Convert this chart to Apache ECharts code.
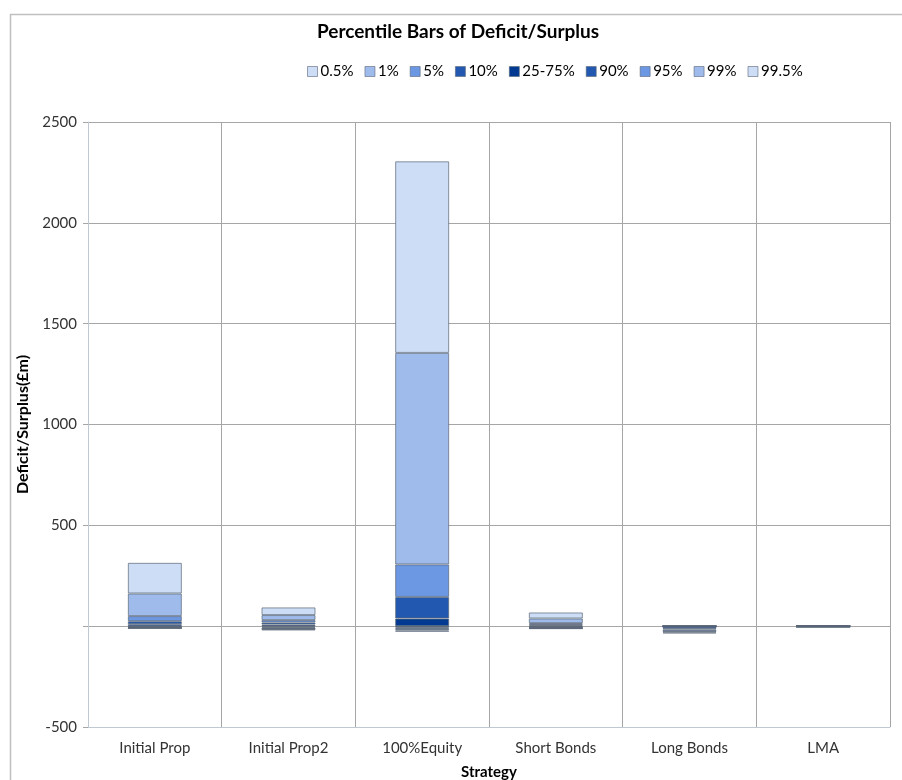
<!DOCTYPE html>
<html>
<head>
<meta charset="utf-8">
<script src="https://cdn.jsdelivr.net/npm/echarts@6/dist/echarts.min.js"></script>
<style>
  html, body { margin: 0; padding: 0; background: #fff; }
  #chart { width: 902px; height: 780px; }
</style>
</head>
<body>
<div id="chart"></div>
<script>
// Strategies on the x axis
const strategies = ['Initial Prop', 'Initial Prop2', '100%Equity', 'Short Bonds', 'Long Bonds', 'LMA'];

// Band heights (£m) for each percentile band, stacked from zero.
// Upper bands stack upward from the median band, lower bands stack downward.
const band2575Up = [10, 8, 38, 5, 0, 3];
const band90     = [15, 10, 107, 5, 0, 0];
const band95     = [25, 12, 161, 5, 0, 0];
const band99     = [112, 25, 1049, 23, 0, 0];
const band995    = [152, 38, 950, 30, 0, 0];

const band2575Dn = [-4, -5, -3, -4, -10, -3];
const band10     = [-2, -5, -5, -3, -6, 0];
const band5      = [-2, -3, -6, -2, -8, 0];
const band1      = [-2, -3, -7, -2, -7, 0];
const band05     = [-1, -4, -7, -2, -5, 0];

// Legend order as shown across the top
const legendNames = ['0.5%', '1%', '5%', '10%', '25-75%', '90%', '95%', '99%', '99.5%'];

const colors = {
  '0.5%': '#CCDDF5',
  '1%': '#9FBBEB',
  '5%': '#6C97E2',
  '10%': '#2358B0',
  '25-75%': '#023A92',
  '90%': '#2358B0',
  '95%': '#6C97E2',
  '99%': '#9FBBEB',
  '99.5%': '#CCDDF5'
};

const FONT = 'Lato, "Open Sans", sans-serif';

function band(name, data) {
  return {
    name: name,
    type: 'bar',
    stack: 'pct',
    barWidth: 54,
    data: data,
    itemStyle: {
      color: colors[name],
      borderColor: 'rgba(90,102,120,0.7)',
      borderWidth: 1
    },
    emphasis: { disabled: true }
  };
}

const series = [
  band('25-75%', band2575Up),
  band('90%', band90),
  band('95%', band95),
  band('99%', band99),
  band('99.5%', band995),
  band('25-75%', band2575Dn),
  band('10%', band10),
  band('5%', band5),
  band('1%', band1),
  band('0.5%', band05)
];

const chart = echarts.init(document.getElementById('chart'), null, { renderer: 'canvas' });

chart.setOption({
  animation: false,
  backgroundColor: '#fff',
  textStyle: { fontFamily: FONT },
  title: {
    text: 'Percentile Bars of Deficit/Surplus',
    left: 453,
    top: 17,
    textAlign: 'center',
    textStyle: { fontFamily: FONT, fontSize: 19, fontWeight: 'bold', color: '#000' }
  },
  legend: {
    data: legendNames,
    top: 59,
    left: 302,
    itemWidth: 10,
    itemHeight: 10,
    itemGap: 11,
    icon: 'rect',
    textStyle: { fontFamily: FONT, fontSize: 15, color: '#000', padding: [0, 0, 0, -2] },
    itemStyle: { borderColor: 'rgba(90,102,120,0.6)', borderWidth: 1 }
  },
  grid: {
    left: 88, right: 12, top: 122, bottom: 53,
    containLabel: false,
    outerBoundsMode: 'none'
  },
  xAxis: {
    type: 'category',
    data: strategies,
    name: 'Strategy',
    nameLocation: 'middle',
    nameGap: 38,
    nameTextStyle: { fontFamily: FONT, fontSize: 15, fontWeight: 'bold', color: '#000' },
    axisLine: { onZero: false, lineStyle: { color: '#C0C8D2', width: 1 } },
    axisTick: { show: false },
    axisLabel: { fontFamily: FONT, fontSize: 15, color: '#333', margin: 14 },
    splitLine: { show: true, interval: 0, lineStyle: { color: '#A6A6A6', width: 1 } }
  },
  yAxis: {
    type: 'value',
    min: -500,
    max: 2500,
    interval: 500,
    name: 'Deficit/Surplus(£m)',
    nameLocation: 'middle',
    nameGap: 49,
    nameTextStyle: { fontFamily: FONT, fontSize: 16, fontWeight: 'bold', color: '#000' },
    axisLine: { show: true, lineStyle: { color: '#C0C8D2', width: 1 } },
    axisTick: { show: true, length: 5, inside: false, lineStyle: { color: '#A6A6A6' } },
    axisLabel: {
      fontFamily: FONT, fontSize: 15, color: '#333', margin: 11,
      formatter: v => (v === 0 ? '' : String(v))
    },
    splitLine: { show: true, lineStyle: { color: '#A6A6A6', width: 1 } }
  },
  graphic: [
    {
      type: 'rect',
      silent: true,
      shape: { x: 10.5, y: 14.5, width: 900, height: 800 },
      style: { fill: 'none', stroke: '#BFBFBF', lineWidth: 1.5 }
    }
  ],
  series: series
});
</script>
</body>
</html>
